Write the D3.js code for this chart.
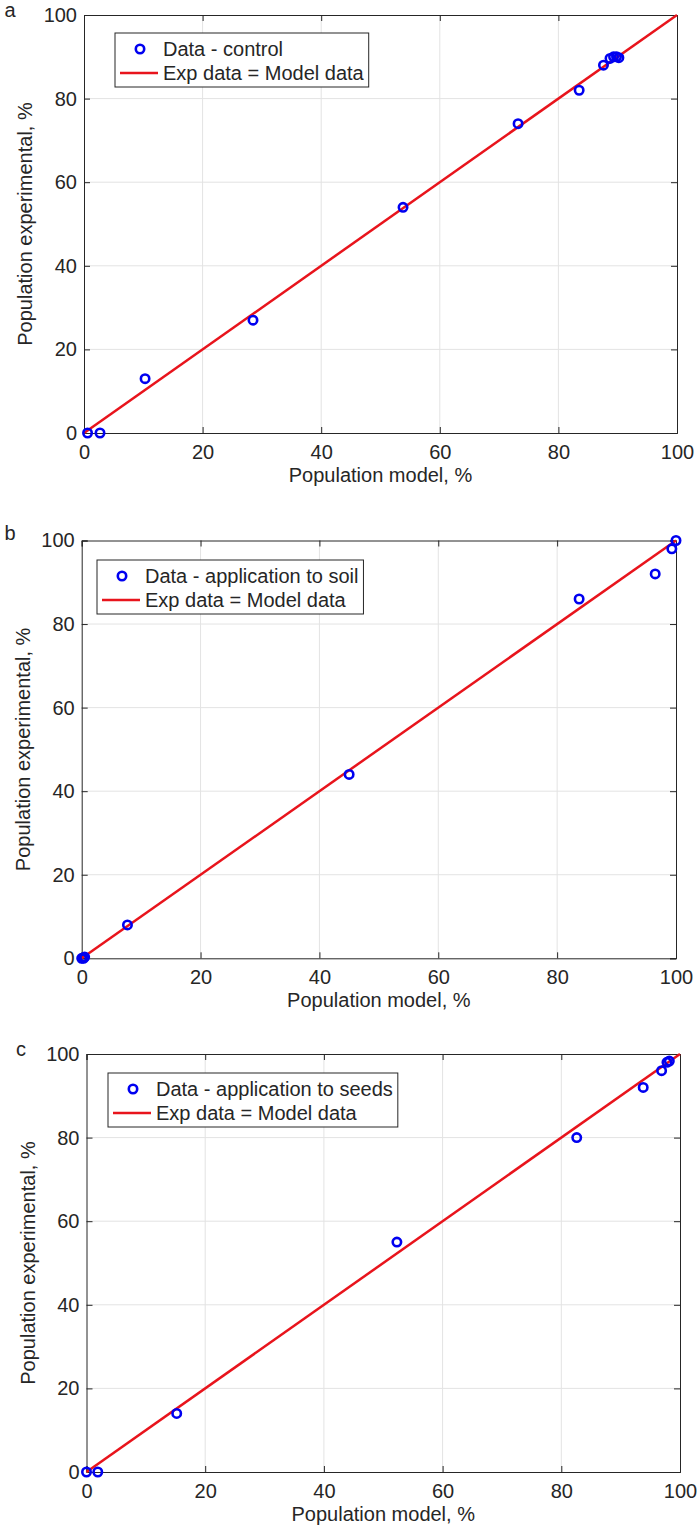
<!DOCTYPE html>
<html><head><meta charset="utf-8">
<script src="https://cdn.jsdelivr.net/npm/d3@7"></script>
<style>body{margin:0;background:#fff}svg{display:block}text{font-family:"Liberation Sans",Arial,sans-serif;fill:#262626}</style>
</head><body><svg id="c" width="700" height="1532"></svg>
<script>
const ticks = [0, 20, 40, 60, 80, 100];
const panelLetters = ["a", "b", "c"];
const dataLabels = ["Data - control", "Data - application to soil", "Data - application to seeds"];
const lineLabel = "Exp data = Model data";
const xTitle = "Population model, %";
const yTitle = "Population experimental, %";
const aModel = [0.6, 2.7, 10.3, 28.5, 53.8, 73.2, 83.5, 87.6, 88.7, 89.3, 89.8, 90.2];
const aExp   = [0,   0,   13,   27,   54,   74,   82,   88,   89.6, 90,   90,   89.8];
const bModel = [0, 0.3, 0.5, 7.7, 45, 83.7, 96.5, 99.3, 100];
const bExp   = [0, 0,   0.3, 8,   44, 86,   92,   98,   100];
const cModel = [0, 1.9, 15.2, 52.3, 82.6, 93.8, 96.9, 97.8, 98.2];
const cExp   = [0, 0,   14,   55,   80,   92,   96,   98,   98.3];
const lineX = [0, 100];

const panels = [
  {l:84, r:677, t:15, b:433, letter:[10,10], leg:{x:115,y:33}, mx:aModel, my:aExp},
  {l:81.7, r:676, t:540.5, b:958.3, letter:[10,533], leg:{x:97,y:560}, mx:bModel, my:bExp},
  {l:86.5, r:680, t:1054, b:1472, letter:[21,1049], leg:{x:108,y:1073}, mx:cModel, my:cExp}
];
const svg = d3.select("#c");
const FS = 20;
panels.forEach((p, i) => {
  const x = d3.scaleLinear().domain([0,100]).range([p.l, p.r]);
  const y = d3.scaleLinear().domain([0,100]).range([p.b, p.t]);
  const g = svg.append("g");
  g.selectAll(".gx").data(ticks.slice(1,-1)).join("line")
    .attr("x1", d=>x(d)).attr("x2", d=>x(d)).attr("y1", p.t).attr("y2", p.b)
    .attr("stroke", "#e3e3e3").attr("stroke-width", 1);
  g.selectAll(".gy").data(ticks.slice(1,-1)).join("line")
    .attr("y1", d=>y(d)).attr("y2", d=>y(d)).attr("x1", p.l).attr("x2", p.r)
    .attr("stroke", "#e3e3e3").attr("stroke-width", 1);
  const ax = g.append("g").attr("transform", `translate(0,${p.b})`)
    .call(d3.axisBottom(x).tickValues(ticks).tickSize(-6).tickPadding(12));
  const axT = g.append("g").attr("transform", `translate(0,${p.t})`)
    .call(d3.axisTop(x).tickValues(ticks).tickSize(-6).tickFormat(""));
  const ay = g.append("g").attr("transform", `translate(${p.l},0)`)
    .call(d3.axisLeft(y).tickValues(ticks).tickSize(-6).tickPadding(7));
  const ayR = g.append("g").attr("transform", `translate(${p.r},0)`)
    .call(d3.axisRight(y).tickValues(ticks).tickSize(-6).tickFormat(""));
  [ax, axT, ay, ayR].forEach(a => {
    a.select(".domain").attr("stroke", "#262626").attr("stroke-width", 1);
    a.selectAll(".tick line").attr("stroke", "#262626");
    a.selectAll("text").attr("font-size", FS).attr("font-family", '"Liberation Sans",Arial,sans-serif').attr("fill", "#262626");
  });
  g.append("text").attr("x", (p.l+p.r)/2).attr("y", p.b + 49).attr("text-anchor", "middle")
    .attr("font-size", FS).text(xTitle);
  g.append("text").attr("transform", `translate(${p.l-52},${(p.t+p.b)/2}) rotate(-90)`)
    .attr("text-anchor", "middle").attr("font-size", FS).text(yTitle);
  g.append("text").attr("x", p.letter[0]).attr("y", p.letter[1]).attr("dy", "0.35em")
    .attr("text-anchor", "middle").attr("font-size", FS).text(panelLetters[i]);
  g.append("line").attr("x1", x(lineX[0])).attr("y1", y(lineX[0])).attr("x2", x(lineX[1])).attr("y2", y(lineX[1]))
    .attr("stroke", "#e8141c").attr("stroke-width", 2.5);
  g.selectAll("circle.pt").data(p.mx.map((v,k)=>[v,p.my[k]])).join("circle")
    .attr("cx", d=>x(d[0])).attr("cy", d=>y(d[1])).attr("r", 4.2)
    .attr("fill", "none").attr("stroke", "#0000f0").attr("stroke-width", 2.6);
  const L = p.leg;
  const lg = g.append("g");
  const t1 = lg.append("text").attr("x", L.x+48).attr("y", L.y+16).attr("dy","0.35em").attr("font-size", FS).text(dataLabels[i]);
  const t2 = lg.append("text").attr("x", L.x+48).attr("y", L.y+40).attr("dy","0.35em").attr("font-size", FS).text(lineLabel);
  const w = Math.max(t1.node().getComputedTextLength(), t2.node().getComputedTextLength()) + 48 + 5;
  lg.insert("rect", "text").attr("x", L.x).attr("y", L.y).attr("width", w).attr("height", 54)
    .attr("fill", "#fff").attr("stroke", "#262626").attr("stroke-width", 1);
  lg.append("circle").attr("cx", L.x+25).attr("cy", L.y+16).attr("r", 4.2)
    .attr("fill", "none").attr("stroke", "#0000f0").attr("stroke-width", 2.6);
  lg.append("line").attr("x1", L.x+5).attr("x2", L.x+43).attr("y1", L.y+40).attr("y2", L.y+40)
    .attr("stroke", "#e8141c").attr("stroke-width", 2.5);
});
</script></body></html>
